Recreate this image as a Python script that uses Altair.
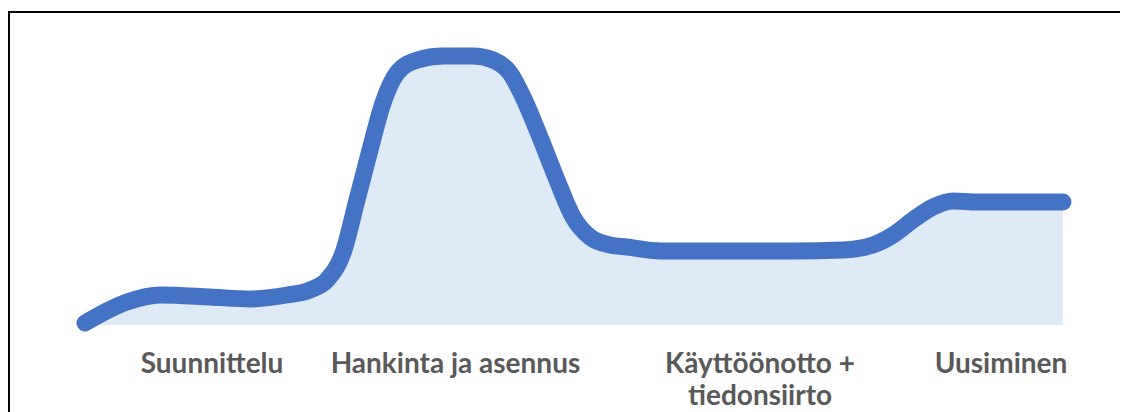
import altair as alt
import pandas as pd

# Effort curve over the project life cycle (arbitrary units)
time = [0, 4.29, 7.67, 12.78, 16.87, 20.65, 23.01, 24.74, 26.38, 27.81, 29.14,
        30.47, 31.9, 33.95, 36.61, 39.67, 41.72, 43.46, 44.79, 46.52, 48.26, 49.9,
        51.64, 53.68, 55.42, 58.79, 65.64, 72.39, 77.51, 80.57, 82.62, 84.66, 86.71,
        88.75, 91.21, 93.56, 100]
effort = [0.67, 7.67, 10, 9.33, 8.67, 10, 11.67, 15, 24, 41.67, 58.33,
          74, 84, 88.33, 89.67, 89.67, 88.33, 84, 76, 62.67, 48.33, 36,
          29.33, 26.67, 26, 24.67, 24.67, 24.67, 25, 26.67, 30, 35, 39.33,
          41.33, 41, 41, 41]

phases = [["Suunnittelu"], ["Hankinta ja asennus"], ["Käyttöönotto +", "tiedonsiirto"], ["Uusiminen"]]
phase_centers = [12.99, 37.88, 69.02, 93.66]

curve = pd.DataFrame({"t": time, "e": effort})
labels = pd.DataFrame({"label": phases, "t": phase_centers})

W, H = 1112, 404
xs = alt.Scale(domain=[-7.873, 105.83], nice=False, zero=False)
ys = alt.Scale(domain=[-29, 105.667], nice=False, zero=False)

base = alt.Chart(curve)

area = base.mark_area(color="#DEEAF6", interpolate="monotone").encode(
    x=alt.X("t:Q", scale=xs, axis=None),
    y=alt.Y("e:Q", scale=ys, axis=None),
    y2=alt.datum(0),
)

line = base.mark_line(color="#4472C4", strokeWidth=17, strokeCap="round",
                      strokeJoin="round", interpolate="monotone").encode(
    x=alt.X("t:Q", scale=xs, axis=None),
    y=alt.Y("e:Q", scale=ys, axis=None),
)

text = alt.Chart(labels).mark_text(
    font="Lato", fontWeight="bold", fontSize=28, color="#595959",
    align="center", baseline="alphabetic", lineHeight=32,
).encode(
    x=alt.X("t:Q", scale=xs, axis=None),
    y=alt.value(365),
    text="label",
)

frame_data = alt.Data(values=[{}])
top_rule = alt.Chart(frame_data).mark_rule(color="black", strokeWidth=2).encode(
    x=alt.value(0), x2=alt.value(W), y=alt.value(4)
)
left_rule = alt.Chart(frame_data).mark_rule(color="black", strokeWidth=2).encode(
    x=alt.value(1), y=alt.value(3), y2=alt.value(H)
)

chart = alt.layer(area, line, text, top_rule, left_rule).properties(
    width=W, height=H, padding=0, autosize=alt.AutoSizeParams(type="none"),
    background="white",
).configure_view(stroke=None)

chart.save("out.html", embed_options={"renderer": "svg", "actions": False})
